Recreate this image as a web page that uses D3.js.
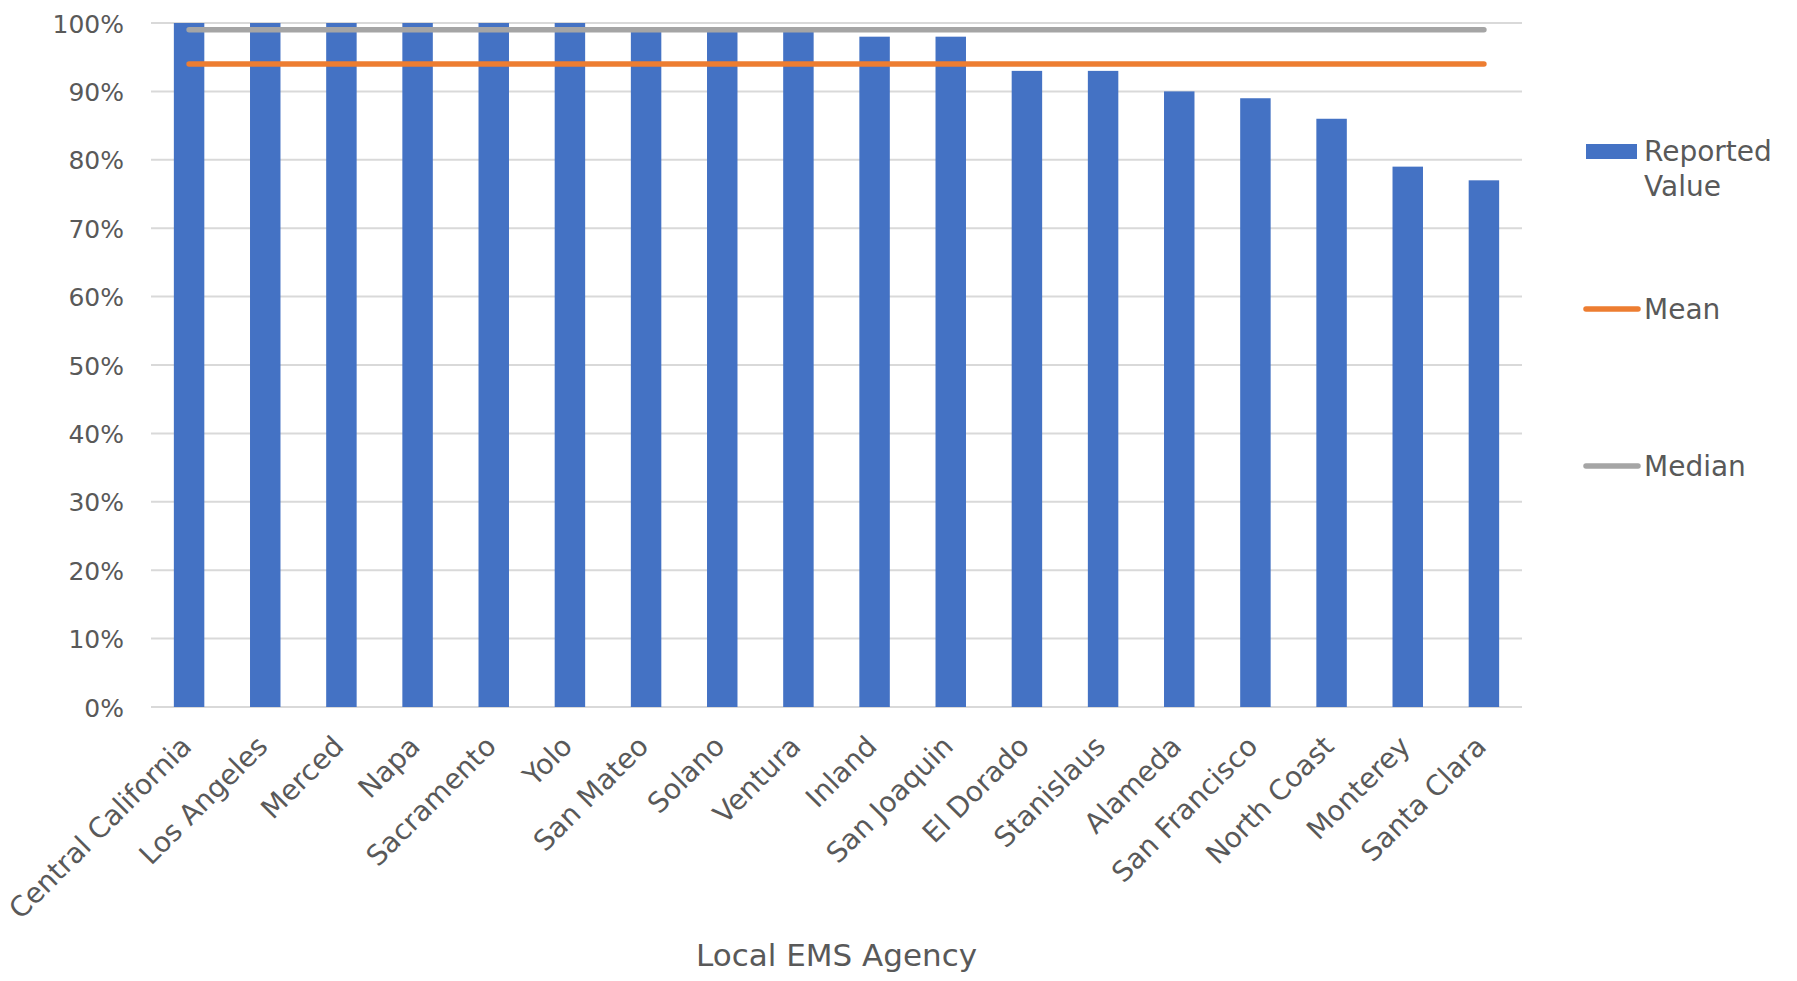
<!DOCTYPE html>
<html>
<head>
<meta charset="utf-8">
<script src="https://cdn.jsdelivr.net/npm/d3@7"></script>
<style>
  html, body { margin: 0; padding: 0; background: #fff; }
  svg text { font-family: "DejaVu Sans", sans-serif; fill: #595959; }
</style>
</head>
<body>
<svg id="chart" width="1797" height="981"></svg>
<script>
const categories = ["Central California","Los Angeles","Merced","Napa","Sacramento","Yolo","San Mateo","Solano","Ventura","Inland","San Joaquin","El Dorado","Stanislaus","Alameda","San Francisco","North Coast","Monterey","Santa Clara"];
const reportedValues = [1.00,1.00,1.00,1.00,1.00,1.00,0.99,0.99,0.99,0.98,0.98,0.93,0.93,0.90,0.89,0.86,0.79,0.77];
const meanValue = 0.94;
const medianValue = 0.99;
const yTicks = [0,0.1,0.2,0.3,0.4,0.5,0.6,0.7,0.8,0.9,1.0];
const seriesNames = ["Reported\nValue","Mean","Median"];
const xTitle = "Local EMS Agency";

const svg = d3.select("#chart");
const m = {left: 151, right: 1522, top: 23, bottom: 707};

const x = d3.scaleBand().domain(categories).range([m.left, m.right]).paddingInner(0.6).paddingOuter(0.3);
const y = d3.scaleLinear().domain([0, 1]).range([m.bottom, m.top]);

// gridlines
svg.append("g").selectAll("line").data(yTicks).join("line")
  .attr("x1", m.left).attr("x2", m.right)
  .attr("y1", d => y(d)).attr("y2", d => y(d))
  .attr("stroke", "#d9d9d9").attr("stroke-width", 2);

// y axis labels
const yAxis = d3.axisLeft(y).tickValues(yTicks).tickFormat(d3.format(".0%")).tickSize(0).tickPadding(0);
const yg = svg.append("g").attr("transform", `translate(124,0)`).call(yAxis);
yg.select(".domain").remove();
yg.selectAll("text").attr("font-size", 25).style("fill", "#595959").attr("dy", "0.36em");

// bars
svg.append("g").selectAll("rect").data(categories).join("rect")
  .attr("x", d => x(d))
  .attr("width", x.bandwidth())
  .attr("y", (d, i) => y(reportedValues[i]))
  .attr("height", (d, i) => y(0) - y(reportedValues[i]))
  .attr("fill", "#4472c4");

// mean & median lines
const xc = d => x(d) + x.bandwidth() / 2;
const line = d3.line().x(d => xc(d[0])).y(d => y(d[1]));
svg.append("path")
  .attr("d", line(categories.map(c => [c, medianValue])))
  .attr("fill", "none").attr("stroke", "#a5a5a5").attr("stroke-width", 5.5).attr("stroke-linecap", "round");
svg.append("path")
  .attr("d", line(categories.map(c => [c, meanValue])))
  .attr("fill", "none").attr("stroke", "#ed7d31").attr("stroke-width", 5.5).attr("stroke-linecap", "round");

// x labels
const xAxis = d3.axisBottom(x).tickSize(0).tickPadding(0);
const xg = svg.append("g").attr("transform", `translate(0,${m.bottom})`).call(xAxis);
xg.select(".domain").remove();
xg.selectAll(".tick text")
  .attr("font-size", 28)
  .style("fill", "#595959")
  .attr("text-anchor", "end")
  .attr("y", 0).attr("dy", 0)
  .attr("transform", "translate(4,41) rotate(-45)");

// x title
svg.append("text").attr("x", (m.left + m.right) / 2).attr("y", 966)
  .attr("text-anchor", "middle").attr("font-size", 31).text(xTitle);

// legend
const lg = svg.append("g");
lg.append("rect").attr("x", 1586).attr("y", 144).attr("width", 51).attr("height", 15).attr("fill", "#4472c4");
const t0 = lg.append("text").attr("x", 1644).attr("y", 161).attr("font-size", 28);
seriesNames[0].split("\n").forEach((s, i) => t0.append("tspan").attr("x", 1644).attr("dy", i ? 35 : 0).text(s));
lg.append("line").attr("x1", 1586).attr("x2", 1638).attr("y1", 309).attr("y2", 309)
  .attr("stroke", "#ed7d31").attr("stroke-width", 5.5).attr("stroke-linecap", "round");
lg.append("text").attr("x", 1644).attr("y", 319).attr("font-size", 28).text(seriesNames[1]);
lg.append("line").attr("x1", 1586).attr("x2", 1638).attr("y1", 466).attr("y2", 466)
  .attr("stroke", "#a5a5a5").attr("stroke-width", 5.5).attr("stroke-linecap", "round");
lg.append("text").attr("x", 1644).attr("y", 476).attr("font-size", 28).text(seriesNames[2]);
</script>
</body>
</html>
